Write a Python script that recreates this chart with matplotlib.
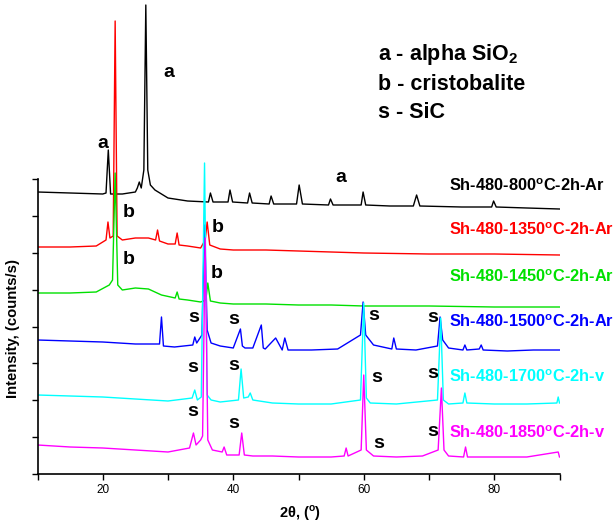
import numpy as np
import matplotlib
matplotlib.use("Agg")
import matplotlib.pyplot as plt

plt.rcParams['font.family'] = ['Liberation Sans', 'DejaVu Sans']
plt.rcParams['mathtext.fontset'] = 'custom'
plt.rcParams['mathtext.rm'] = 'Liberation Sans:bold'
plt.rcParams['mathtext.bf'] = 'Liberation Sans:bold'

# Stacked XRD patterns, intensity (arbitrary counts/s, offset per run)
two_theta_800 = [10, 15, 20, 20.5, 20.85, 21.2, 23, 25, 25.3, 25.6, 25.9, 26.3, 26.6, 26.9,
                 27.3, 28, 30, 33, 36.2, 36.5, 36.9, 39.2, 39.5, 39.9, 42.2, 42.5, 42.9,
                 45.5, 45.8, 46.2, 49.7, 50.1, 50.6, 54.6, 54.9, 55.3, 59.6, 59.9, 60.3,
                 64, 67.6, 68.1, 68.6, 75, 79.6, 79.9, 80.3, 85, 90]
counts_800 = [282, 281, 280, 281, 324, 280, 280, 282, 286, 292, 286, 304, 469, 304,
              289, 284, 276, 273, 272, 281, 272, 272, 284, 272, 271, 281, 271,
              270, 278, 270, 270, 289, 270, 269, 275, 269, 269, 282, 269,
              268, 268, 279, 268, 267, 267, 273, 267, 266, 265]

two_theta_1350 = [10, 15, 19, 20.5, 20.8, 21.1, 21.6, 21.9, 22.2, 23, 25, 27, 28.1, 28.4,
                  28.7, 30, 31.1, 31.4, 31.7, 33, 35, 35.7, 36.0, 36.4, 38, 40, 45, 50,
                  55, 60, 70, 80, 90]
counts_1350 = [227, 227, 228, 234, 252, 236, 238, 453, 238, 234, 236, 236, 234, 244,
               233, 230, 230, 241, 229, 228, 226, 234, 252, 229, 225, 224, 224, 223,
               222, 221, 220, 220, 219]

two_theta_1450 = [10, 15, 19, 21.0, 21.5, 21.9, 22.3, 23, 25, 27, 29, 31.1, 31.4, 31.7,
                  33, 35, 35.8, 36.1, 36.5, 38, 40, 45, 50, 55, 60, 70, 80, 90]
counts_1450 = [181, 181, 182, 189, 194, 301, 189, 184, 186, 185, 179, 176, 182, 175,
               174, 172, 174, 191, 173, 171, 170, 170, 169, 169, 168, 168, 167, 167]

two_theta_1500 = [10, 15, 20, 25, 28.7, 29.0, 29.3, 31, 33.8, 34.1, 34.4, 35.2, 35.6, 36.0,
                  36.6, 38, 40, 41.1, 41.4, 41.8, 43, 44.3, 44.6, 44.9, 46.5, 47.5, 47.9,
                  48.4, 48.7, 49.1, 52, 56, 59.5, 59.9, 60.3, 61.5, 64.3, 64.6, 65.0, 68,
                  71.3, 71.7, 72.1, 73, 75.2, 75.5, 75.8, 77.7, 78.0, 78.3, 82, 86, 90]
counts_1500 = [134, 133, 132, 130, 130, 157, 128, 127, 129, 137, 131, 139, 249, 144,
               131, 128, 126, 145, 128, 126, 126, 149, 126, 125, 136, 124, 136,
               124, 124, 124, 124, 125, 139, 172, 139, 129, 125, 136, 125, 124,
               128, 157, 134, 126, 124, 129, 124, 125, 129, 124, 123, 124, 124]

two_theta_1700 = [10, 15, 20, 25, 30, 33.7, 34.1, 34.5, 35.1, 35.6, 36.0, 36.6, 38, 40.8,
                  41.2, 41.6, 42.3, 42.6, 43.0, 46, 50, 55, 59.5, 60.0, 60.4, 61, 65,
                  71.3, 71.8, 72.2, 73, 75.2, 75.5, 75.8, 80, 85, 89.6, 89.8, 90]
counts_1700 = [79, 78, 77, 75, 73, 76, 84, 74, 77, 311, 79, 74, 72, 74,
               105, 76, 77, 81, 74, 71, 70, 70, 74, 171, 76, 71, 70,
               74, 156, 74, 70, 71, 81, 71, 70, 70, 71, 77, 71]

two_theta_1850 = [10, 15, 20, 25, 30, 33.3, 33.9, 34.3, 35.0, 35.3, 35.7, 36.1, 36.8, 38.3,
                  38.6, 39, 40.9, 41.3, 41.7, 43, 46, 50, 55, 57.0, 57.3, 57.6, 59.6,
                  60.0, 60.4, 61.5, 65, 69, 71.4, 71.9, 72.3, 73, 75.3, 75.6, 75.9, 80,
                  85, 89.8, 90]
counts_1850 = [29, 27, 26, 24, 22, 26, 41, 29, 34, 38, 236, 34, 24, 22,
               27, 19, 19, 41, 19, 18, 18, 17, 17, 18, 26, 18, 24,
               99, 24, 18, 17, 18, 24, 86, 24, 18, 17, 27, 17, 17,
               17, 22, 17]

run_names = ["Sh-480-800$^{\\mathrm{o}}$C-2h-Ar", "Sh-480-1350$^{\\mathrm{o}}$C-2h-Ar",
             "Sh-480-1450$^{\\mathrm{o}}$C-2h-Ar", "Sh-480-1500$^{\\mathrm{o}}$C-2h-Ar",
             "Sh-480-1700$^{\\mathrm{o}}$C-2h-v", "Sh-480-1850$^{\\mathrm{o}}$C-2h-v"]
run_colors = ["black", "#ff0000", "#00e000", "#0000ff", "#00ffff", "#ff00ff"]

# phase marks: letter, 2theta, intensity level
phase_marks = [("a", 20.0, 331), ("a", 30.1, 402), ("a", 56.5, 297),
               ("b", 23.9, 262), ("b", 23.9, 215), ("b", 37.6, 246), ("b", 37.4, 201),
               ("s", 33.9, 157), ("s", 40.0, 155), ("s", 61.5, 158), ("s", 70.5, 157),
               ("s", 33.8, 107), ("s", 40.0, 108), ("s", 62.0, 96), ("s", 70.6, 101),
               ("s", 33.8, 63), ("s", 40.0, 50), ("s", 62.3, 31), ("s", 70.5, 42)]

label_levels = [288, 244, 197, 152, 97, 41]

fig = plt.figure(figsize=(6.16, 5.27), dpi=100)
ax = fig.add_axes([37.5 / 616, 53 / 527, 522 / 616, 474 / 527])

series = [(two_theta_800, counts_800), (two_theta_1350, counts_1350),
          (two_theta_1450, counts_1450), (two_theta_1500, counts_1500),
          (two_theta_1700, counts_1700), (two_theta_1850, counts_1850)]
for (x, y), c in zip(series, run_colors):
    ax.plot(x, y, color=c, lw=1.0)

for name, c, lvl in zip(run_names, run_colors, label_levels):
    ax.text(73.0, lvl, name, color=c, fontsize=11.8, fontweight='bold',
            ha='left', va='center', clip_on=False)

for letter, x, y in phase_marks:
    ax.text(x, y, letter, fontsize=14, fontweight='bold', ha='center', va='center')

ax.text(0.652, 0.884, "a - alpha SiO$_2$", transform=ax.transAxes, fontsize=15.5,
        fontweight='bold', va='center')
ax.text(0.652, 0.822, "b - cristobalite", transform=ax.transAxes, fontsize=15.5,
        fontweight='bold', va='center')
ax.text(0.652, 0.763, "s - SiC", transform=ax.transAxes, fontsize=15.5,
        fontweight='bold', va='center')

ax.set_xlim(10, 90)
ax.set_ylim(0, 474)
ax.spines['top'].set_visible(False)
ax.spines['right'].set_visible(False)
ax.spines['left'].set_bounds(0, 295)
ax.spines['left'].set_linewidth(1.2)
ax.spines['bottom'].set_linewidth(1.2)

ax.set_xticks([20, 40, 60, 80])
ax.set_xticks([10, 30, 50, 70, 90], minor=True)
ax.set_yticks(np.linspace(0, 295, 9))
ax.set_yticklabels([])
ax.tick_params(axis='both', which='both', direction='out', length=4, width=1.0)
ax.tick_params(axis='x', labelsize=8.5, pad=3)

fig.text(300 / 616, 1 - 513 / 527, "2θ, ($^{\\mathrm{o}}$)", fontsize=10.5,
         fontweight='bold', ha='center', va='center')
fig.text(13 / 616, 1 - 328 / 527, "Intensity, (counts/s)", fontsize=10.7,
         fontweight='bold', rotation=90, ha='center', va='center')

fig.savefig("out.png", dpi=100)
